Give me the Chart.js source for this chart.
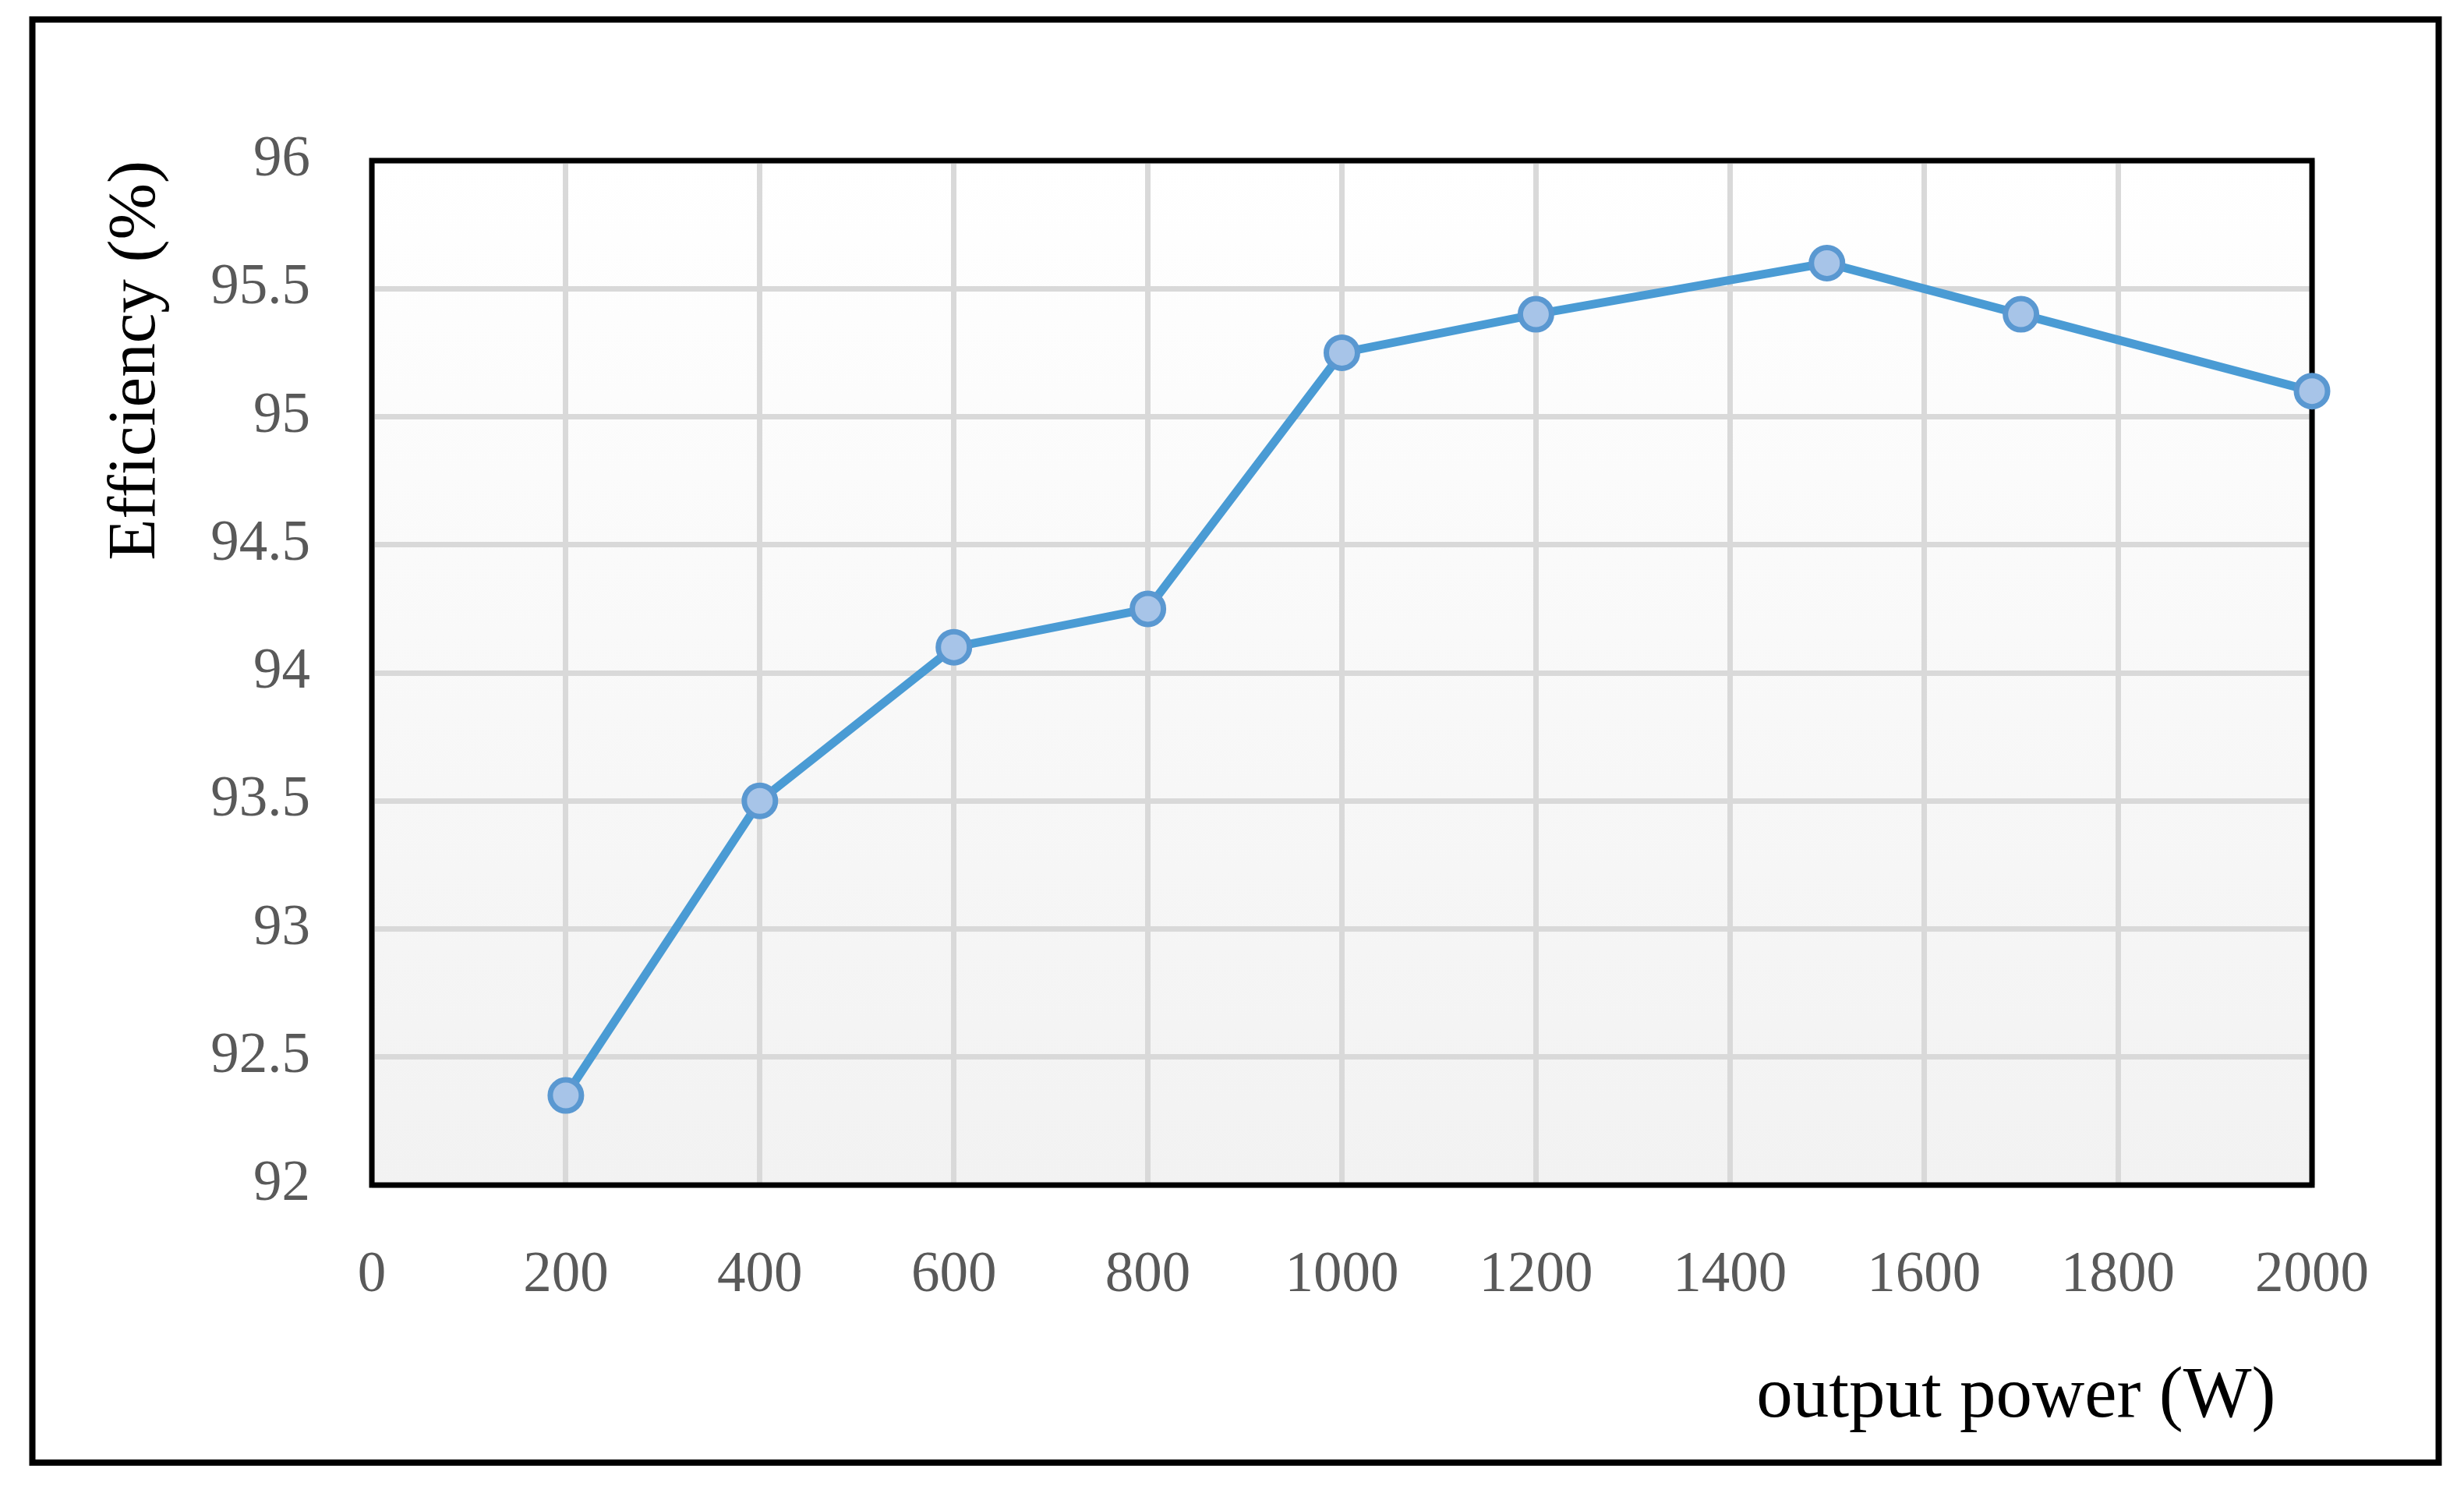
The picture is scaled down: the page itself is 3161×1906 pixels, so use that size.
<!DOCTYPE html>
<html>
<head>
<meta charset="utf-8">
<script src="https://cdn.jsdelivr.net/npm/chart.js@4/dist/chart.umd.min.js"></script>
<style>
  html, body { margin: 0; padding: 0; background: #ffffff; }
  #wrap { position: relative; width: 3161px; height: 1906px; }
  canvas { display: block; }
</style>
</head>
<body>
<div id="wrap"><canvas id="c" width="3161" height="1906"></canvas></div>
<script>
// ---- data ----
const outputPower = [200, 400, 600, 800, 1000, 1200, 1500, 1700, 2000];
const efficiency  = [92.35, 93.5, 94.1, 94.25, 95.25, 95.4, 95.6, 95.4, 95.1];
const xTickValues = [0, 200, 400, 600, 800, 1000, 1200, 1400, 1600, 1800, 2000];
const yTickValues = [92, 92.5, 93, 93.5, 94, 94.5, 95, 95.5, 96];
const xTitle = 'output power (W)';
const yTitle = 'Efficiency (%)';

const FONT = '"Liberation Serif", "Times New Roman", serif';

const framePlugin = {
  id: 'frame',
  beforeDraw(chart) {
    const ctx = chart.ctx;
    const a = chart.chartArea;
    ctx.save();
    ctx.fillStyle = '#ffffff';
    ctx.fillRect(0, 0, chart.width, chart.height);
    // outer frame
    ctx.strokeStyle = '#000000';
    ctx.lineWidth = 8;
    ctx.strokeRect(41.5, 25, 3128.5 - 41.5, 1876 - 25);
    // plot background gradient
    const g = ctx.createLinearGradient(0, a.top, 0, a.bottom);
    g.addColorStop(0, '#ffffff');
    g.addColorStop(1, '#f2f2f2');
    ctx.fillStyle = g;
    ctx.fillRect(a.left, a.top, a.right - a.left, a.bottom - a.top);
    ctx.restore();
  },
  beforeDatasetsDraw(chart) {
    const ctx = chart.ctx;
    const a = chart.chartArea;
    ctx.save();
    ctx.strokeStyle = '#000000';
    ctx.lineWidth = 7;
    ctx.lineJoin = 'miter';
    ctx.strokeRect(a.left, a.top, a.right - a.left, a.bottom - a.top);
    ctx.restore();
  }
};

new Chart(document.getElementById('c'), {
  type: 'line',
  data: {
    datasets: [{
      data: outputPower.map((x, i) => ({ x: x, y: efficiency[i] })),
      borderColor: '#4a9bd4',
      borderWidth: 11,
      pointRadius: 20,
      pointHoverRadius: 20,
      pointBorderWidth: 7,
      pointBorderColor: '#5a98d1',
      pointBackgroundColor: '#a7c4e8',
      tension: 0,
      fill: false,
      clip: false
    }]
  },
  options: {
    responsive: false,
    animation: false,
    devicePixelRatio: 1,
    layout: { padding: { left: 0, top: 206, right: 195, bottom: 0 } },
    plugins: { legend: { display: false }, tooltip: { enabled: false } },
    scales: {
      x: {
        type: 'linear',
        min: 0, max: 2000,
        afterBuildTicks(scale) { scale.ticks = xTickValues.map(v => ({ value: v })); },
        afterFit(scale) { scale.height = 386; },
        grid: { color: '#d9d9d9', lineWidth: 7, drawTicks: false },
        border: { display: false },
        ticks: {
          color: '#595959',
          padding: 73,
          maxRotation: 0,
          autoSkip: false,
          font: { family: FONT, size: 73 },
          callback: v => String(v)
        },
        title: {
          display: true,
          text: xTitle + '  ',
          align: 'end',
          color: '#000000',
          font: { family: FONT, size: 93 },
          padding: { top: 0, bottom: 58 }
        }
      },
      y: {
        type: 'linear',
        min: 92, max: 96,
        afterBuildTicks(scale) { scale.ticks = yTickValues.map(v => ({ value: v })); },
        afterFit(scale) { scale.width = 477; },
        grid: { color: '#d9d9d9', lineWidth: 7, drawTicks: false },
        border: { display: false },
        ticks: {
          color: '#595959',
          padding: 79,
          autoSkip: false,
          font: { family: FONT, size: 73 },
          callback: v => String(v)
        },
        title: {
          display: true,
          text: yTitle,
          align: 'end',
          color: '#000000',
          font: { family: FONT, size: 87 },
          padding: { top: 123, bottom: 0 }
        }
      }
    }
  },
  plugins: [framePlugin]
});
</script>
</body>
</html>
